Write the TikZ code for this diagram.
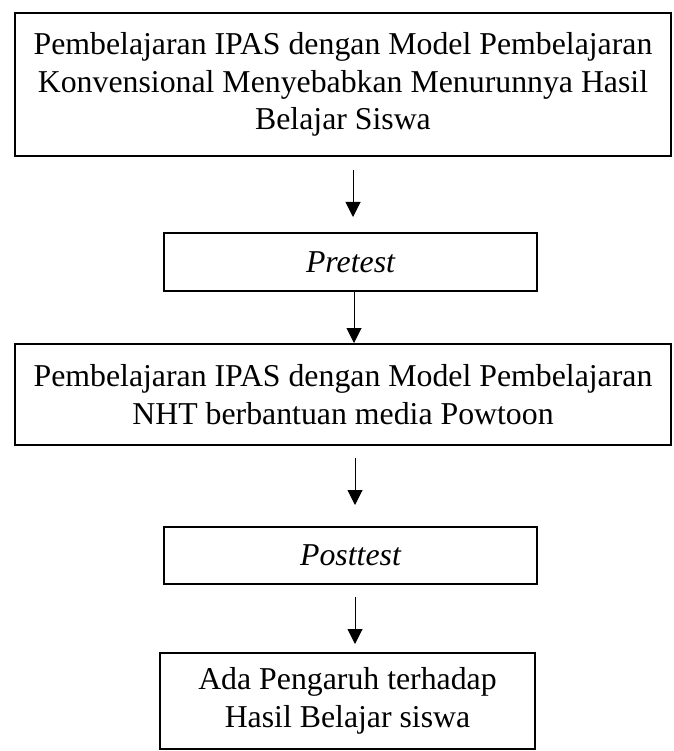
\documentclass[tikz,border=0pt]{standalone}
\usepackage{fontspec}
\setmainfont{Liberation Serif}
\usetikzlibrary{arrows.meta}
\begin{document}
\begin{tikzpicture}[x=1pt,y=-1pt,
  box/.style={draw=black,line width=2pt,inner sep=0pt,align=center,
    font=\fontsize{31.8}{37.8}\selectfont},
  arr/.style={line width=1pt,-{Triangle[length=15pt,width=15pt]}}]
\useasboundingbox (0,0) rectangle (673,751);
\node[box,minimum width=656pt,minimum height=143pt] (a) at (343,84.5)
  {Pembelajaran IPAS dengan Model Pembelajaran\\Konvensional Menyebabkan Menurunnya Hasil\\Belajar Siswa};
\node[box,minimum width=373pt,minimum height=58pt] (b) at (350.5,262) {\itshape Pretest};
\node[box,minimum width=656pt,minimum height=101pt] (c) at (343,394.5)
  {Pembelajaran IPAS dengan Model Pembelajaran\\NHT berbantuan media Powtoon};
\node[box,minimum width=373pt,minimum height=57pt] (d) at (350.5,555.5) {\itshape Posttest};
\node[box,minimum width=375pt,minimum height=96pt] (e) at (347.5,701)
  {Ada Pengaruh terhadap\\Hasil Belajar siswa};
\draw[arr] ([xshift=10pt,yshift=-13pt]a.south) -- ([xshift=2.5pt,yshift=15pt]b.north);
\draw[arr] ([xshift=3.5pt]b.south) -- ([xshift=11pt]c.north);
\draw[arr] ([xshift=12pt,yshift=-12pt]c.south) -- ([xshift=4.5pt,yshift=21pt]d.north);
\draw[arr] ([xshift=4.5pt,yshift=-12pt]d.south) -- ([xshift=7.5pt,yshift=8pt]e.north);
\end{tikzpicture}
\end{document}
